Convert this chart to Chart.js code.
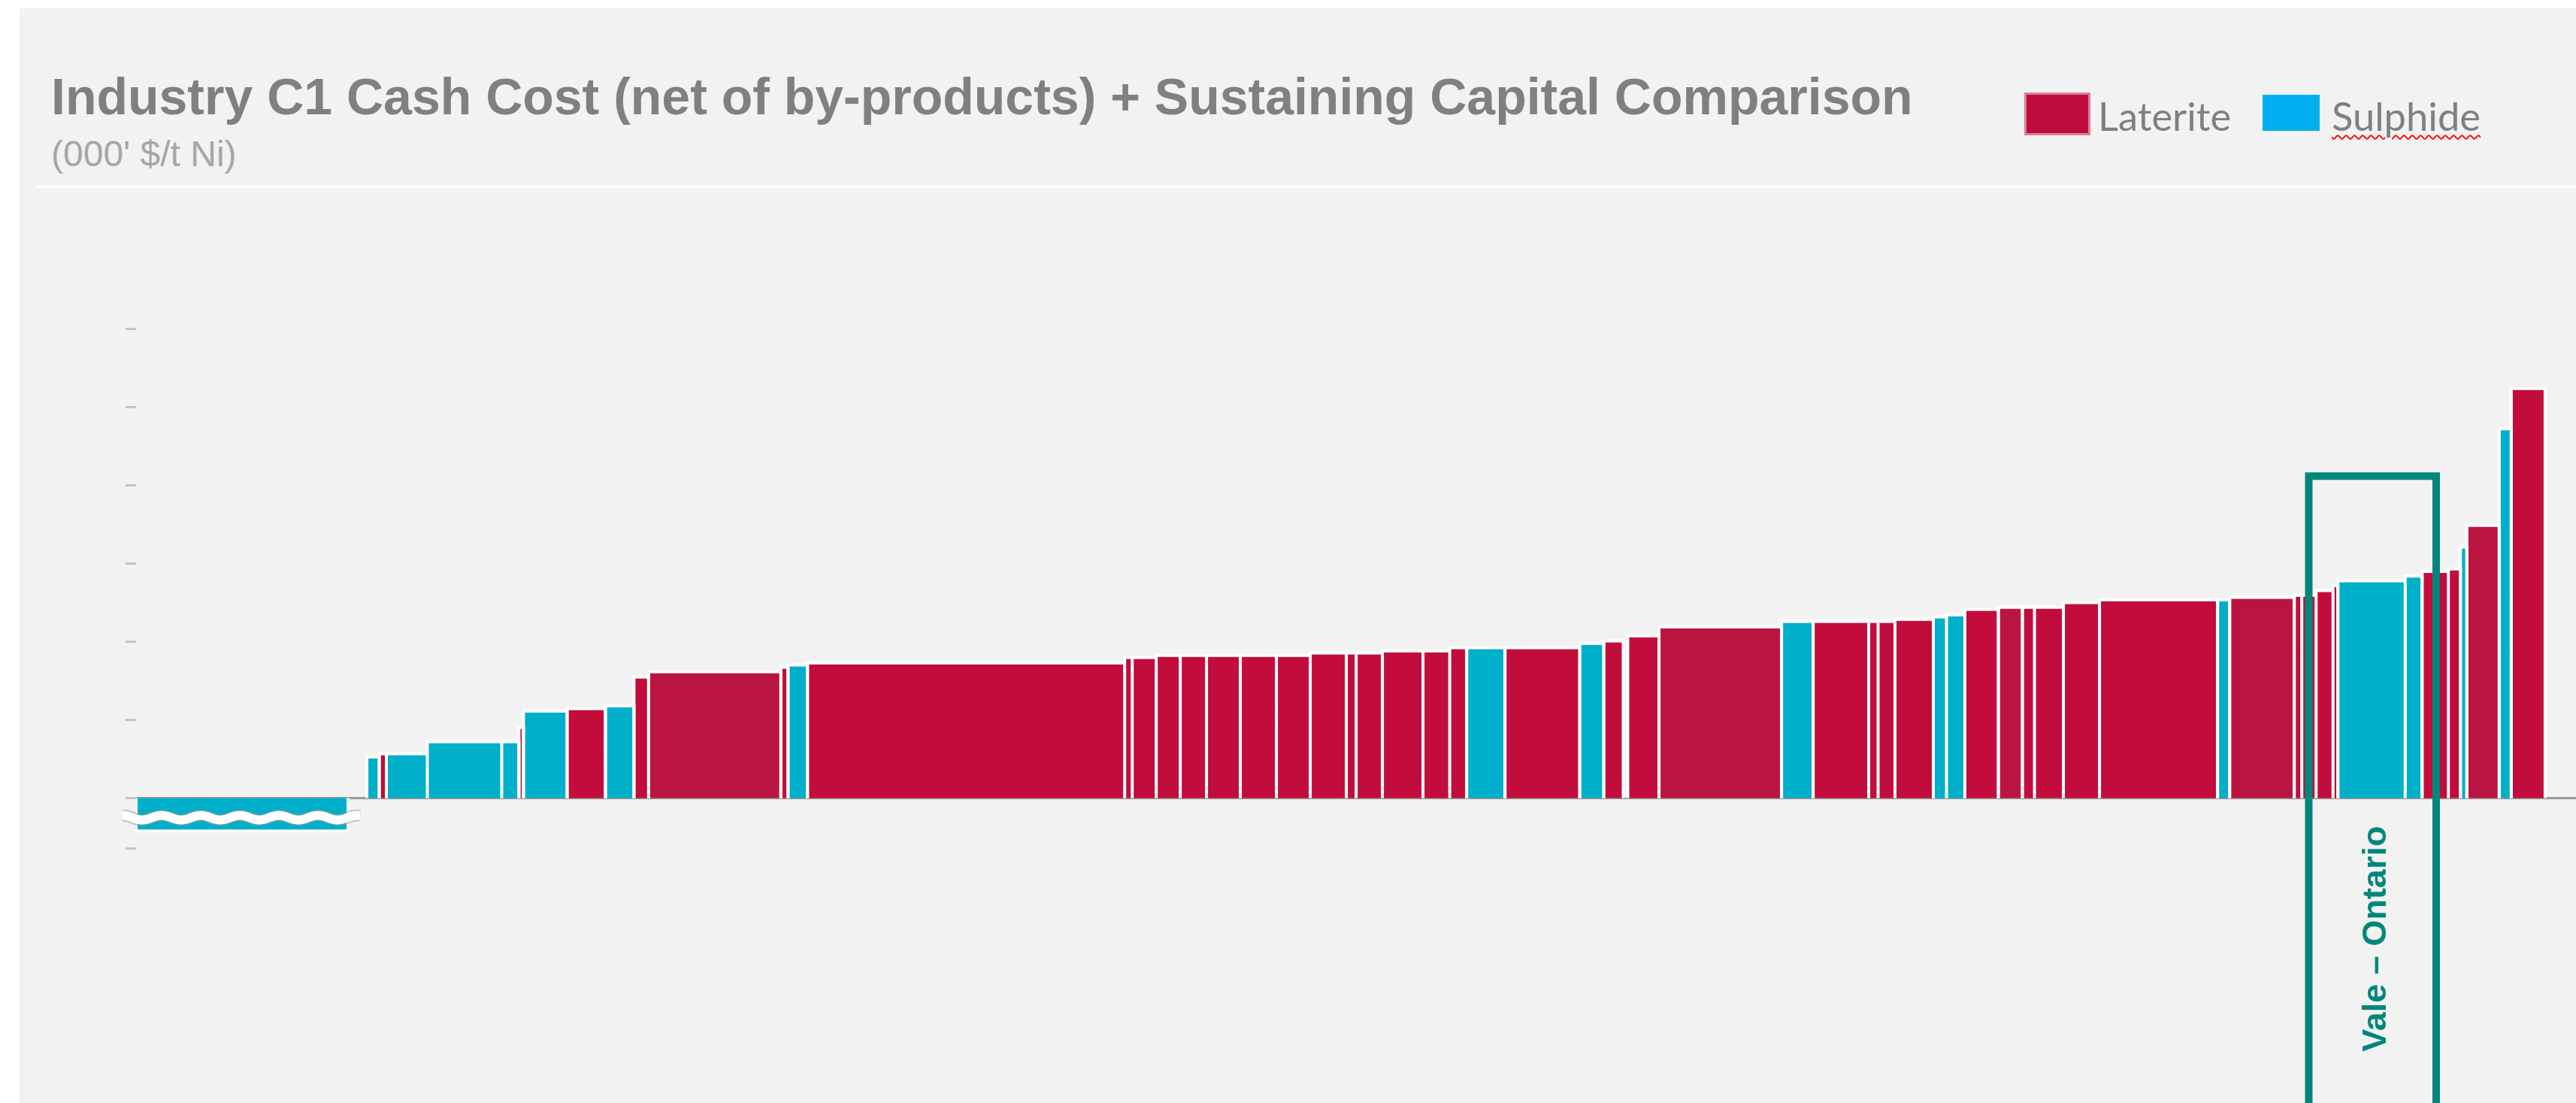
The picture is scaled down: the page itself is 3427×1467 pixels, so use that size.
<!DOCTYPE html>
<html>
<head>
<meta charset="utf-8">
<title>Industry C1 Cash Cost + Sustaining Capital</title>
<script src="https://cdn.jsdelivr.net/npm/chart.js@4.4.1/dist/chart.umd.min.js"></script>
<style>
    html, body { margin: 0; padding: 0; background: #ffffff; }
    body { width: 3427px; height: 1467px; position: relative; overflow: hidden; }
    .panel { position: absolute; left: 26px; top: 11px; right: 0; bottom: 0; background: #f2f2f2; }
    .rule { position: absolute; left: 48px; right: 0; top: 247px; height: 3px; background: #ffffff; }
    .title { position: absolute; left: 68px; top: 94px; margin: 0; white-space: nowrap;
             font: bold 68px/1 'Liberation Sans', Arial, sans-serif; color: #808080; }
    .subtitle { position: absolute; left: 68px; top: 181px; white-space: nowrap;
                font: 48px/1 'Liberation Sans', Arial, sans-serif; color: #a6a6a6; }
    .swatch { position: absolute; }
    .swatch.laterite { left: 2696px; top: 126px; width: 82px; height: 51px; background: #c00c3c;
                       box-shadow: 0 0 0 3px rgba(192, 12, 60, 0.5); }
    .swatch.sulphide { left: 3010px; top: 126px; width: 76px; height: 48px; background: #00b0f0; }
    .legend-label { position: absolute; top: 128px; white-space: nowrap;
                    font: 52.5px/1 Lato, 'Open Sans', sans-serif; color: #808080; }
    .legend-label.spell { text-decoration: underline wavy #ff0000; text-decoration-thickness: 2px;
                          text-underline-offset: 5px; }
    canvas { position: absolute; left: 0; top: 0; }
</style>
</head>
<body>
<div class="panel"></div>
<div class="rule"></div>
<h1 class="title">Industry C1 Cash Cost (net of by-products) + Sustaining Capital Comparison</h1>
<div class="subtitle">(000' $/t Ni)</div>
<div class="swatch laterite"></div>
<div class="legend-label" style="left: 2791px;">Laterite</div>
<div class="swatch sulphide"></div>
<div class="legend-label spell" style="left: 3102px;">Sulphide</div>
<canvas id="costCurve" width="3427" height="1467"></canvas>

<script>
// Mine output (kt Ni, bar width) in cost-curve order; null cost marks a gap
const output = [188, 16.7, 11, 6.3, 36.3, 66, 15.3, 4, 38.7, 34, 25.3, 13, 117.3, 6.3, 17.3, 281.3,
    6.7, 21.3, 21.3, 23.3, 30, 32, 30, 32, 8.7, 23.3, 36, 23.7, 15, 34, 66.3, 21.3, 17.3, 4,
    27.7, 108.7, 28, 49.3, 8.3, 15, 34, 11.7, 16.3, 29.7, 21.3, 10.7, 25.7, 32, 104.7, 10.7,
    57.3, 6.7, 12.7, 15, 4.3, 59.7, 15, 23.3, 10.7, 5.7, 28.7, 10.7, 30];

// C1 cash cost + sustaining capital (000' $/t Ni)
const cost = [-2.1, null, 2.63, 2.84, 2.84, 3.61, 3.61, 4.52, 5.57, 5.72, 5.91, 7.74, 8.08, 8.37, 8.51, 8.65,
    8.99, 8.99, 9.13, 9.13, 9.13, 9.13, 9.13, 9.28, 9.28, 9.28, 9.42, 9.42, 9.62, 9.62, 9.62, 9.90, 10.05, null,
    10.38, 10.96, 11.30, 11.30, 11.30, 11.30, 11.44, 11.59, 11.73, 12.07, 12.21, 12.21, 12.21, 12.50, 12.69, 12.69,
    12.84, 12.98, 12.98, 13.27, 13.60, 13.90, 14.20, 14.50, 14.66, 16.06, 17.45, 23.63, 26.20];

// Ore type: L = laterite, L2 = laterite (second shade), S = sulphide
const ore = ['S', null, 'S', 'L', 'S', 'S', 'S', 'L', 'S', 'L', 'S', 'L', 'L2', 'L', 'S', 'L',
    'L', 'L', 'L', 'L', 'L', 'L', 'L', 'L', 'L', 'L', 'L', 'L', 'L', 'S', 'L', 'S', 'L', null,
    'L', 'L2', 'S', 'L', 'L', 'L', 'L', 'S', 'S', 'L', 'L2', 'L', 'L', 'L', 'L', 'S',
    'L2', 'L', 'L', 'L', 'L', 'S', 'S', 'L', 'L', 'S', 'L2', 'S', 'L'];

const yTicks = [-3.2, 0, 5, 10, 15, 20, 25, 30];

// Vale - Ontario highlight (kt Ni range, cost level of the frame top)
const valeFrom = 1927;
const valeTo = 2040;
const valeTop = 20.6;
const valeLabelY = -9;

const xMax = 2164;
const yMin = -19.5;
const yMax = 38.5;

const barColors = {
    L: '#c20c3c',
    L2: '#bc1440',
    S: '#00afca'
};

// Each mine becomes a closed step (left edge, top, right edge), separated by a gap point
function stepsFor(type) {
    const points = [];
    let x = 0;
    output.forEach((w, i) => {
        const x0 = x;
        const x1 = x + w;
        x = x1;
        if (cost[i] === null || ore[i] !== type) return;
        points.push({x: x0, y: 0}, {x: x0, y: cost[i]}, {x: x1, y: cost[i]}, {x: x1, y: 0}, {x: x1, y: null});
    });
    return points;
}

function barSet(type) {
    return {
        type: 'line',
        data: stepsFor(type),
        backgroundColor: barColors[type],
        borderColor: '#ffffff',
        borderWidth: 4,
        borderJoinStyle: 'miter',
        fill: 'origin',
        spanGaps: false,
        tension: 0,
        pointRadius: 0,
        order: 2
    };
}

// Break marks across the negative bar and the rotated Vale label
const annotations = {
    id: 'annotations',
    afterDraw(chart) {
        const {ctx, scales: {x, y}} = chart;
        const left = x.getPixelForValue(0) - 18;
        const right = x.getPixelForValue(output[0]) + 17;
        const mid = y.getPixelForValue(-1.25);

        ctx.save();
        const wave = () => {
            ctx.beginPath();
            for (let px = left; px <= right; px += 2) {
                const py = mid - 3 * Math.sin((px - left + 13) / 52 * 2 * Math.PI);
                if (px === left) ctx.moveTo(px, py); else ctx.lineTo(px, py);
            }
        };
        wave();
        ctx.strokeStyle = 'rgba(150, 150, 150, 0.5)';
        ctx.lineWidth = 16;
        ctx.stroke();
        wave();
        ctx.strokeStyle = '#ffffff';
        ctx.lineWidth = 12;
        ctx.stroke();
        ctx.restore();

        ctx.save();
        ctx.translate(x.getPixelForValue((valeFrom + valeTo) / 2) + 5, y.getPixelForValue(valeLabelY));
        ctx.rotate(-Math.PI / 2);
        ctx.font = 'bold 45px "Liberation Sans", Arial, sans-serif';
        ctx.fillStyle = '#00877a';
        ctx.textAlign = 'center';
        ctx.textBaseline = 'middle';
        ctx.fillText('Vale \u2013 Ontario', 0, 0);
        ctx.restore();
    }
};

const ctx = document.getElementById('costCurve').getContext('2d');

const chart = new Chart(ctx, {
    type: 'line',
    data: {
        datasets: [
            {
                type: 'line',
                data: [{x: valeFrom, y: yMin}, {x: valeFrom, y: valeTop}, {x: valeTo, y: valeTop}, {x: valeTo, y: yMin}],
                borderColor: '#00877a',
                borderWidth: 10,
                borderJoinStyle: 'miter',
                fill: false,
                tension: 0,
                pointRadius: 0,
                order: 0
            },
            barSet('L'),
            barSet('L2'),
            barSet('S')
        ]
    },
    options: {
        responsive: false,
        animation: false,
        events: [],
        layout: {
            padding: {left: 167, top: 261, right: 0, bottom: 0}
        },
        plugins: {
            legend: {display: false},
            tooltip: {enabled: false},
            filler: {drawTime: 'beforeDatasetsDraw'}
        },
        scales: {
            x: {
                type: 'linear',
                min: 0,
                max: xMax,
                display: false
            },
            y: {
                type: 'linear',
                min: yMin,
                max: yMax,
                z: 1,
                afterBuildTicks: (scale) => {
                    scale.ticks = yTicks.map(v => ({value: v}));
                },
                ticks: {display: false},
                border: {display: false},
                grid: {
                    color: (c) => (c.tick && c.tick.value === 0 ? '#999999' : 'rgba(0, 0, 0, 0)'),
                    lineWidth: 3,
                    tickColor: '#c4c4c4',
                    tickLength: 14,
                    tickWidth: 3
                }
            }
        }
    },
    plugins: [annotations]
});
</script>
</body>
</html>
